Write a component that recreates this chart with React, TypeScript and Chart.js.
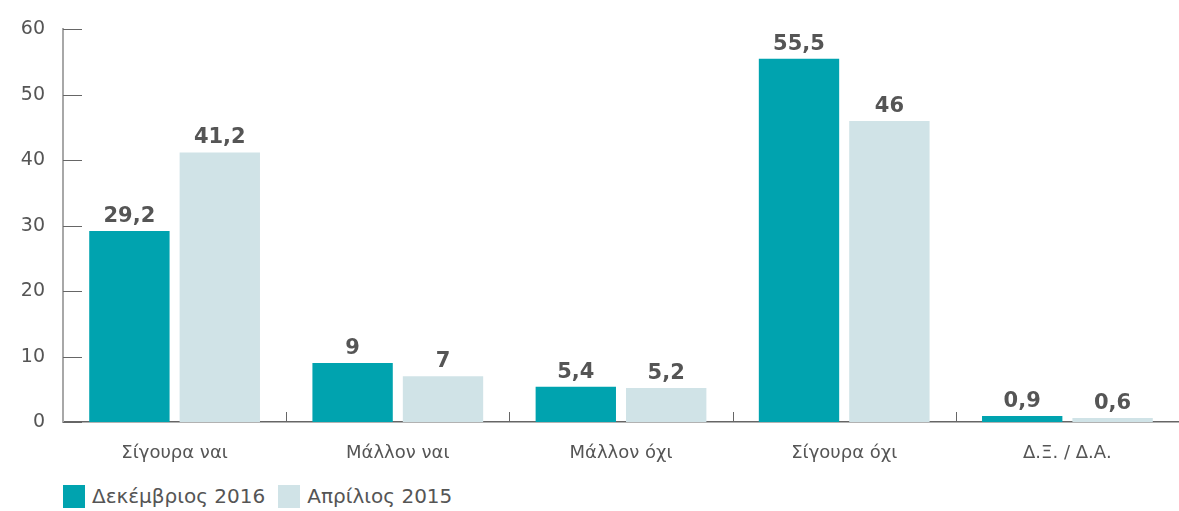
import React, { useEffect, useRef } from "react";
import { Chart, registerables } from "chart.js";

Chart.register(...registerables);

const categories = ["Σίγουρα ναι", "Μάλλον ναι", "Μάλλον όχι", "Σίγουρα όχι", "Δ.Ξ. / Δ.Α."];
const seriesNames = ["Δεκέμβριος 2016", "Απρίλιος 2015"];
const dec2016 = [29.2, 9, 5.4, 55.5, 0.9];
const apr2015 = [41.2, 7, 5.2, 46, 0.6];
const colors = ["#00A3AF", "#D0E3E7"];

const FONT = "'DejaVu Sans', sans-serif";
const TEXT = "#555555";

const fmt = (v: number) => String(v).replace(".", ",");

const valueLabels = {
  id: "valueLabels",
  afterDatasetsDraw(chart: any) {
    const ctx = chart.ctx;
    ctx.save();
    ctx.font = `bold 21px ${FONT}`;
    ctx.fillStyle = TEXT;
    ctx.textAlign = "center";
    ctx.textBaseline = "alphabetic";
    chart.data.datasets.forEach((ds: any, di: number) => {
      const meta = chart.getDatasetMeta(di);
      meta.data.forEach((el: any, i: number) => {
        ctx.fillText(fmt(ds.data[i]), el.x, el.y - 9);
      });
    });
    ctx.restore();
  },
};

const innerTicks = {
  id: "innerTicks",
  afterDraw(chart: any) {
    const ctx = chart.ctx;
    const { left, bottom } = chart.chartArea;
    const y = chart.scales.y;
    const x = chart.scales.x;
    ctx.save();
    ctx.strokeStyle = "#666666";
    ctx.lineWidth = 1;
    y.ticks.forEach((t: any) => {
      const py = Math.round(y.getPixelForValue(t.value)) + 0.5;
      ctx.beginPath();
      ctx.moveTo(left, py);
      ctx.lineTo(left + 19, py);
      ctx.stroke();
    });
    for (let i = 1; i < categories.length; i++) {
      const px = Math.round((x.getPixelForValue(i - 1) + x.getPixelForValue(i)) / 2) + 0.5;
      ctx.beginPath();
      ctx.moveTo(px, bottom - 10);
      ctx.lineTo(px, bottom);
      ctx.stroke();
    }
    ctx.restore();
  },
};

export default function App() {
  const ref = useRef<HTMLCanvasElement | null>(null);

  useEffect(() => {
    document.body.style.margin = "0";
    const chart = new Chart(ref.current as HTMLCanvasElement, {
      type: "bar",
      data: {
        labels: categories,
        datasets: [
          { label: seriesNames[0], data: dec2016, backgroundColor: colors[0] },
          { label: seriesNames[1], data: apr2015, backgroundColor: colors[1] },
        ],
      },
      options: {
        animation: false,
        responsive: false,
        layout: { padding: { top: 27, right: 0, left: 0, bottom: 0 } },
        datasets: { bar: { categoryPercentage: 0.81, barPercentage: 0.889 } },
        plugins: { legend: { display: false }, tooltip: { enabled: false } },
        scales: {
          x: {
            grid: { display: false },
            border: { display: true, color: "#666666", width: 1.5 },
            ticks: { color: TEXT, font: { family: FONT, size: 18 }, padding: 13 },
            afterFit(s: any) {
              s.height = 48;
            },
          },
          y: {
            min: 0,
            max: 60,
            grid: { display: false, drawTicks: false },
            border: { display: true, color: "#A8A8A8", width: 2 },
            ticks: { stepSize: 10, color: TEXT, font: { family: FONT, size: 19 }, padding: 18 },
            afterFit(s: any) {
              s.width = 63;
            },
          },
        },
      },
      plugins: [valueLabels, innerTicks],
    });
    return () => chart.destroy();
  }, []);

  return (
    <div style={{ width: 1179 }}>
      <canvas ref={ref} width={1179} height={470} style={{ display: "block" }} />
      <div
        style={{
          display: "flex",
          alignItems: "center",
          paddingLeft: 63,
          marginTop: 14,
          fontFamily: FONT,
          fontSize: 20,
          color: TEXT,
        }}
      >
        {seriesNames.map((n, i) => (
          <div key={n} style={{ display: "flex", alignItems: "center", marginRight: 13 }}>
            <span style={{ display: "inline-block", width: 22, height: 23, background: colors[i], marginRight: 7 }} />
            <span>{n}</span>
          </div>
        ))}
      </div>
    </div>
  );
}
